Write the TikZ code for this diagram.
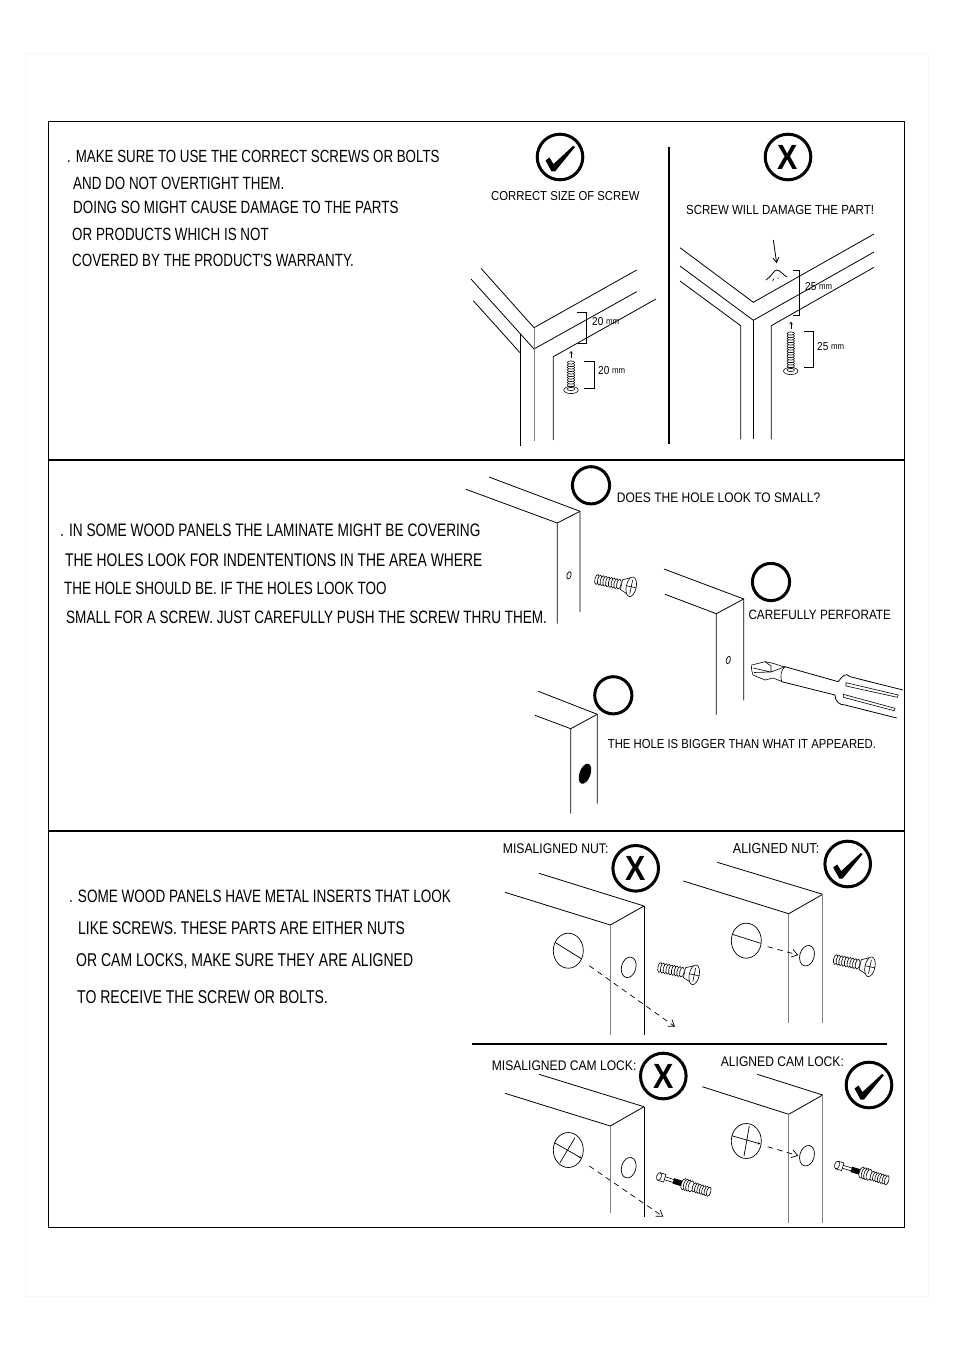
\documentclass[tikz,border=0pt]{standalone}
\usepackage{fontspec}
\usetikzlibrary{arrows.meta}
\newfontfamily\labfont[FakeStretch=0.87]{Liberation Sans}
\newfontfamily\bodyfont[FakeStretch=0.757]{Liberation Sans}
\newcommand{\sz}[1]{\fontsize{#1}{#1}\labfont}
\newcommand{\szb}[1]{\fontsize{#1}{#1}\bodyfont}
\newcommand{\mm}{\raisebox{1.5pt}{\sz{9}mm}}
\begin{document}
\begin{tikzpicture}[x=1pt,y=-1pt,
  edge/.style={line width=0.8pt},
  pale/.style={line width=1.1pt,draw=black!50},
  rule/.style={line width=2pt},
  ring/.style={line width=3pt},
  hole/.style={line width=0.7pt},
  dashline/.style={line width=0.7pt,dash pattern=on 5.5pt off 4.5pt,>={Straight Barb[length=6pt,width=8pt]}},
  tiny/.style={line width=0.6pt},
  lab/.style={anchor=west,inner sep=0pt,font=\sz{#1}},
  body/.style={anchor=west,inner sep=0pt,font=\szb{#1}},
  hand/.style={anchor=west,inner sep=0pt,font=\sz{11.5}},
  >={Straight Barb[length=5pt,width=6pt]},
  okmark/.pic={
    \draw[ring] (0,0) circle (22.8);
    \fill (-14.5,3.5) -- (-10.5,0.5) -- (-6.5,7) -- (13,-11) -- (15,-10) -- (-5,14.5) -- (-8.5,14.5) -- cycle;
  },
  nomark/.pic={
    \draw[ring] (0,0) circle (22.8);
    \node[inner sep=0pt,font=\sz{35}\bfseries] (-x) at (0,0) {X};
  },
  screwside/.pic={
    \foreach \i in {0,2.8,...,25} \draw[tiny,fill=white] (\i,0) ellipse [x radius=2.2,y radius=5];
    \draw[tiny,fill=white] (25,-5) -- (32,-8.5) -- (34,8.5) -- (25,5) -- cycle;
    \draw[tiny,fill=white] (35,0) ellipse [x radius=5,y radius=10];
    \draw[tiny] (30,0) -- (40,0) (35,-7) -- (35,7);
  },
  screwup/.pic={
    \foreach \i in {2.5,5,...,#1} \draw[tiny,fill=white] (0,-\i) ellipse [x radius=3.7,y radius=1.6];
    \draw[tiny,fill=white] (0,0) ellipse [x radius=7.2,y radius=3.6];
    \draw[tiny] (0,-1) ellipse [x radius=3.7,y radius=1.6];
  },
  camlock/.pic={
    \draw[tiny,fill=white] (0,-4) rectangle (6,4);
    \draw[tiny,fill=white] (0,0) ellipse [x radius=2.4,y radius=4];
    \draw[tiny] (6,-1.5) -- (15,-1.5) (6,1.5) -- (15,1.5);
    \fill (15,-2.8) rectangle (26,2.8);
    \foreach \i in {26,28.5,31,33.5} \draw[tiny,fill=white] (\i,0) ellipse [x radius=2.6,y radius=5.8];
    \foreach \i in {37,39.5,...,54} \draw[tiny,fill=white] (\i,0) ellipse [x radius=2,y radius=4.8];
  }]
  \useasboundingbox (0,0) rectangle (954,1351);
  \draw[black!3,line width=0.5pt] (25,53) rectangle (928,1296);
  \draw[line width=1pt] (48,122) rectangle (904,1227);
  \draw[line width=1.6pt] (48,460) -- (904,460);
  \draw[line width=2.6pt] (48,831) -- (904,831);
  \draw[rule] (669,147) -- (669,444);
  \draw[rule] (472,1044) -- (887,1044);

  % first panel
  \node[body=17.6] (warn1) at (67,156) {. MAKE SURE TO USE THE CORRECT SCREWS OR BOLTS};
  \node[body=17.7] (warn2) at (73,183) {AND DO NOT OVERTIGHT THEM.};
  \node[body=17.7] (warn3) at (73,207) {DOING SO MIGHT CAUSE DAMAGE TO THE PARTS};
  \node[body=17.7] (warn4) at (72,234) {OR PRODUCTS WHICH IS NOT};
  \node[body=17.7] (warn5) at (72,260) {COVERED BY THE PRODUCT'S WARRANTY.};
  \pic at (560,157) {okmark};
  \pic (badmark) at (788,157) {nomark};
  \node[lab=13] (goodlab) at (491,196.5) {CORRECT SIZE OF SCREW};
  \node[lab=13.2] (badlab) at (686,209.5) {SCREW WILL DAMAGE THE PART!};
  % good joint
  \draw[edge] (481,268.3) -- (534,327.7) -- (636.7,270);
  \draw[edge] (471,279) -- (534,349) -- (636.7,291.7);
  \draw[edge] (473.3,300.7) -- (520,352.7);
  \draw[edge] (520,334.3) -- (520,446);
  \draw[pale] (534.3,327.7) -- (534.3,441);
  \draw[edge] (656,299) -- (553.3,356.7) -- (553.3,440);
  \draw[edge] (577,312.3) -- (586,312.3) -- (586,343.3) -- (578,343.3);
  \node[hand] (goodlen) at (592,322) {20 \mm};
  \draw[tiny,->,>={Straight Barb[length=2pt,width=3pt]}] (571,358) -- (571,351);
  \pic at (571,390) {screwup=27.5};
  \draw[edge] (584.3,361) -- (594.3,361) -- (594.3,388.3) -- (584.3,388.3);
  \node[hand] (goodscrew) at (598,371) {20 \mm};
  % bad joint
  \draw[edge] (680,247.7) -- (753.3,302.3) -- (874,234);
  \draw[edge] (680,266) -- (753.3,320.3) -- (874,252);
  \draw[edge] (680,281) -- (740.7,325.7) -- (740.7,439.3);
  \draw[edge] (753.3,320.3) -- (753.3,438.7);
  \draw[edge] (874,267.3) -- (771.3,325.7) -- (771.3,439.3);
  \draw[edge,->] (773.3,240) -- (776.7,263.3);
  \draw[edge] (766,280) .. controls (772,276) and (774,270) .. (776.7,270) .. controls (780,270) and (783,275) .. (787,277);
  \draw[tiny] (772.5,281) -- (774,278.5) (778,279) -- (778.2,277.5);
  \draw[edge] (793.3,270.7) -- (799.3,270.7) -- (799.3,315) -- (793.3,315);
  \node[hand] (badlen) at (805,286.7) {25 \mm};
  \draw[tiny,->,>={Straight Barb[length=2pt,width=3pt]}] (791,329) -- (791,321.7);
  \pic at (790.7,371) {screwup=37.5};
  \draw[edge] (804,331.3) -- (813.3,331.3) -- (813.3,367.3) -- (804,367.3);
  \node[hand] (badscrew) at (817,346.7) {25 \mm};

  % second panel
  \node[body=18.07] (skin1) at (60,530) {. IN SOME WOOD PANELS THE LAMINATE MIGHT BE COVERING};
  \node[body=18.3] (skin2) at (65,560) {THE HOLES LOOK FOR INDENTENTIONS IN THE AREA WHERE};
  \node[body=17.8] (skin3) at (64,588) {THE HOLE SHOULD BE. IF THE HOLES LOOK TOO};
  \node[body=17.9] (skin4) at (66,617) {SMALL FOR A SCREW. JUST CAREFULLY PUSH THE SCREW THRU THEM.};
  \draw[ring] (591,485.3) circle (18.6);
  \node[lab=13.8] (smalllab) at (616.7,498) {DOES THE HOLE LOOK TO SMALL?};
  \draw[edge] (489,477) -- (580,511.3) -- (580,612);
  \draw[edge] (466,489.3) -- (557.3,523) -- (557.3,623.7);
  \draw[edge] (557.3,523) -- (580,511.3);
  \draw[hole,rotate around={-15:(569,575.3)}] (569,575.3) ellipse [x radius=2,y radius=3.8];
  \pic[rotate=-12] at (597,579.5) {screwside};
  \draw[edge] (664,569) -- (743.7,599) -- (743.7,700.3);
  \draw[edge] (665,594.3) -- (716.3,613.7) -- (716.3,714.7);
  \draw[edge] (716.3,613.7) -- (743.7,599);
  \draw[hole,rotate around={-15:(728.3,660)}] (728.3,660) ellipse [x radius=2,y radius=3.8];
  \draw[ring] (771,582) circle (18.6);
  \node[lab=13.5] (pushlab) at (748.3,615.3) {CAREFULLY PERFORATE};
  % screwdriver
  \draw[tiny] (751.7,665) -- (765,661.7) -- (773,663.3) -- (784.5,667) (751.7,665) .. controls (751,669) and (752,672) .. (753,675) -- (765,680) -- (773,678) -- (782,681.5);
  \draw[tiny] (753,668) -- (771,672) -- (785,666.7) (754,672.5) -- (771,672) (765,661.7) -- (771,666) -- (771,672);
  \draw[tiny] (785,666.7) .. controls (781,670) and (780,676) .. (781.7,681.7);
  \draw[edge] (785,666.7) -- (838.3,681.7) .. controls (842,676) and (846,672) .. (850,676.7) -- (903,690);
  \draw[edge] (781.7,681.7) -- (835,695) .. controls (835,701) and (839,705) .. (845,705) -- (896.7,718);
  \draw[tiny] (846,682.7) -- (898.3,695) -- (897.3,697.3) -- (846,686) -- cycle;
  \draw[tiny] (843.3,694.3) -- (895,708.3) -- (894,710.7) -- (843.3,697.3) -- cycle;
  \draw[edge] (538.3,691.3) -- (597.3,714.3) -- (597.3,803.7);
  \draw[edge] (535,715.3) -- (570.7,728.7) -- (570.7,813.7);
  \draw[edge] (570.7,728.7) -- (597.3,714.3);
  \fill[rotate around={-20:(585,773.7)}] (585,773.7) ellipse [x radius=5.5,y radius=10.5];
  \draw[ring] (613.3,695.3) circle (18.6);
  \node[lab=13] (biglab) at (607.7,744.3) {THE HOLE IS BIGGER THAN WHAT IT APPEARED.};

  % third panel
  \node[body=17.9] (ins1) at (69,896) {. SOME WOOD PANELS HAVE METAL INSERTS THAT LOOK};
  \node[body=18.35] (ins2) at (78,928) {LIKE SCREWS. THESE PARTS ARE EITHER NUTS};
  \node[body=18.5] (ins3) at (76,961) {OR CAM LOCKS, MAKE SURE THEY ARE ALIGNED};
  \node[body=18.55] (ins4) at (77,997) {TO RECEIVE THE SCREW OR BOLTS.};
  % nuts
  \node[lab=14] (misnut) at (502.7,848.3) {MISALIGNED NUT:};
  \pic (xnut) at (635.7,868.3) {nomark};
  \draw[edge] (539,873.3) -- (644,906);
  \draw[edge] (505,892.3) -- (610.3,925) -- (644,906);
  \draw[pale] (610.3,925) -- (610.3,1035);
  \draw[edge] (644,906) -- (644,1035);
  \draw[hole] (568.3,950.7) ellipse [x radius=15,y radius=17.5];
  \draw[hole] (555,942.3) -- (581.7,959);
  \draw[hole,rotate around={-15:(628.7,967.3)}] (628.7,967.3) ellipse [x radius=7.2,y radius=10.5];
  \pic[rotate=-12] at (660,967.5) {screwside};
  \draw[dashline,->] (589.3,965.7) -- (675,1026.7);
  \node[lab=14.4] (alignnut) at (732.7,848.3) {ALIGNED NUT:};
  \pic at (847.7,864) {okmark};
  \draw[edge] (717.3,862.3) -- (822.7,894.3);
  \draw[edge] (683.3,881) -- (788.7,913.7) -- (822.7,894.3);
  \draw[pale] (788.7,913.7) -- (788.7,1023.3);
  \draw[pale] (822.7,894.3) -- (822.7,1023.3);
  \draw[hole] (746.3,940.7) ellipse [x radius=15,y radius=17.5];
  \draw[hole] (732.3,934.3) -- (760.7,943.3);
  \draw[dashline,->] (767.7,946.7) -- (798.3,955);
  \draw[hole,rotate around={-15:(807,955.7)}] (807,955.7) ellipse [x radius=7.2,y radius=10.5];
  \pic[rotate=-12] at (835.7,959.5) {screwside};
  % cam locks
  \node[lab=13.9] (miscam) at (491.7,1066) {MISALIGNED CAM LOCK:};
  \pic (xcam) at (663.3,1076) {nomark};
  \draw[edge] (539,1074.3) -- (644,1106.7);
  \draw[edge] (505,1093.3) -- (610.3,1126) -- (644,1106.7);
  \draw[pale] (610.3,1126) -- (610.3,1213.3);
  \draw[edge] (644,1106.7) -- (644,1217.3);
  \draw[hole] (568.3,1150) ellipse [x radius=15,y radius=17.5];
  \draw[hole,-{Stealth[length=3pt,width=2.5pt,open]}] (554.5,1142.7) -- (581.7,1158.3);
  \draw[hole] (560,1162.7) -- (575,1137.7);
  \draw[dashline,->] (589.3,1166) -- (663.3,1216.7);
  \draw[hole,rotate around={-15:(628.7,1167.7)}] (628.7,1167.7) ellipse [x radius=7.2,y radius=10.5];
  \pic[rotate=-17] at (659,1176.5) {camlock};
  \node[lab=13.9] (aligncam) at (720.7,1061.7) {ALIGNED CAM LOCK:};
  \pic at (869,1085) {okmark};
  \draw[edge] (757.3,1074.3) -- (822.7,1095);
  \draw[edge] (702.3,1086.7) -- (788.7,1114.3) -- (822.7,1095);
  \draw[pale] (788.7,1114.3) -- (788.7,1223);
  \draw[pale] (822.7,1095) -- (822.7,1223);
  \draw[hole] (746.3,1141) ellipse [x radius=15,y radius=17.5];
  \draw[hole,-{Stealth[length=3pt,width=2.5pt,open]}] (731.7,1135.7) -- (760.7,1144);
  \draw[hole] (744,1156) -- (749.3,1126);
  \draw[dashline,->] (767.7,1146.7) -- (798.3,1155.7);
  \draw[hole,rotate around={-15:(807,1155.7)}] (807,1155.7) ellipse [x radius=7.2,y radius=10.5];
  \pic[rotate=-17] at (837,1165) {camlock};
\end{tikzpicture}
\end{document}
